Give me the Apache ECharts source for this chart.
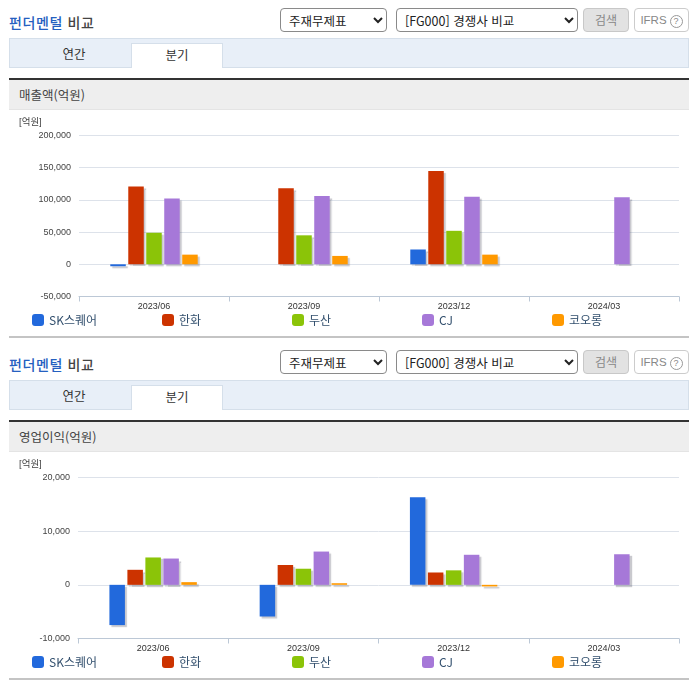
<!DOCTYPE html>
<html lang="ko">
<head>
<meta charset="utf-8">
<script src="https://cdn.jsdelivr.net/npm/echarts@6/dist/echarts.min.js"></script>
<style>
  html, body { margin: 0; background: #fff; }
  body { width: 696px; height: 684px; overflow: hidden; position: relative; font-family: "Noto Sans CJK KR", sans-serif; color: #333; }
  .panel { position: absolute; left: 0; width: 696px; height: 342px; }
  .panel > * { position: absolute; box-sizing: border-box; }
  .title { left: 9px; top: 12px; font-size: 14px; line-height: 20px; font-weight: 500; color: #444; letter-spacing: 0.6px; }
  .title span { color: #2560c0; }
  select { top: 8px; height: 24px; font-size: 12.5px; font-family: inherit; color: #222; background: #fff; border: 1px solid #8a8a8a; border-radius: 4px; padding: 0 4px; }
  .sel1 { left: 280px; width: 107px; }
  .sel2 { left: 396px; width: 182px; }
  .btn { top: 8px; height: 24px; border-radius: 4px; font-size: 12px; line-height: 22px; text-align: center; color: #888; }
  .search { left: 583px; width: 46px; background: #e2e2e2; border: 1px solid #c8c8c8; }
  .ifrs { left: 634px; width: 55px; background: #fff; border: 1px solid #ccc; font-family: "Liberation Sans", sans-serif; font-size: 11.5px; }
  .ifrs i { display: inline-block; width: 13px; height: 13px; margin-left: 3px; border: 1px solid #999; border-radius: 50%; box-sizing: border-box; font-style: normal; font-size: 9px; line-height: 11px; vertical-align: 0; }
  .tabs { left: 9px; top: 38px; width: 680px; height: 30px; background: #e8eff8; border: 1px solid #d5dfea; }
  .tab { top: 43px; height: 25px; font-size: 12.5px; line-height: 22px; text-align: center; color: #333; }
  .tab1 { left: 9px; width: 130px; }
  .tab2 { left: 131px; width: 92px; background: #fff; border: 1px solid #d5dfea; border-bottom: 0; }
  .head { left: 9px; top: 78px; width: 680px; height: 32px; background: #eee; border-top: 2px solid #333; border-bottom: 1px solid #e4e4e4; padding-left: 10px; font-size: 12.5px; line-height: 29px; color: #444; }
  .chart { left: 0; top: 110px; width: 696px; height: 226px; }
  .foot { left: 9px; top: 336px; width: 680px; height: 2px; background: #c4c4c4; }
</style>
</head>
<body>
<script>
const CATEGORIES = ["2023/06", "2023/09", "2023/12", "2024/03"];
const SERIES_NAMES = ["SK스퀘어", "한화", "두산", "CJ", "코오롱"];
const SERIES_COLORS = ["#2269dc", "#cc3300", "#8bc408", "#a678d8", "#ff9900"];

// 매출액(억원)
const SALES_SK = [-3000, null, 23000, null];
const SALES_HANWHA = [121000, 118000, 145000, null];
const SALES_DOOSAN = [49000, 45000, 52000, null];
const SALES_CJ = [102000, 106000, 105000, 104000];
const SALES_KOLON = [15000, 13000, 15000, null];
const SALES_TICKS = { min: -50000, max: 200000, interval: 50000 };

// 영업이익(억원)
const PROFIT_SK = [-7500, -5900, 16300, null];
const PROFIT_HANWHA = [2800, 3700, 2300, null];
const PROFIT_DOOSAN = [5100, 3000, 2700, null];
const PROFIT_CJ = [4900, 6200, 5600, 5700];
const PROFIT_KOLON = [500, 300, -300, null];
const PROFIT_TICKS = { min: -10000, max: 20000, interval: 10000 };

const LEGEND_LEFT = [32, 162, 292, 422, 552];
const LABEL_FONT = '"Liberation Sans", "Noto Sans CJK KR", sans-serif';

function addPanel(top, heading) {
  const panel = document.createElement("div");
  panel.className = "panel";
  panel.style.top = top + "px";
  panel.innerHTML = `
    <div class="title"><span>펀더멘털</span> 비교</div>
    <select class="sel1"><option>주재무제표</option></select>
    <select class="sel2"><option>[FG000] 경쟁사 비교</option></select>
    <div class="btn search">검색</div>
    <div class="btn ifrs">IFRS<i>?</i></div>
    <div class="tabs"></div>
    <div class="tab tab1">연간</div>
    <div class="tab tab2">분기</div>
    <div class="head">${heading}</div>
    <div class="chart"></div>
    <div class="foot"></div>`;
  document.body.appendChild(panel);
  return panel.querySelector(".chart");
}

function drawChart(dom, seriesValues, ticks, gridLeft) {
  const chart = echarts.init(dom);
  chart.setOption({
    animation: false,
    textStyle: { fontFamily: LABEL_FONT },
    title: {
      text: "[억원]",
      left: 19,
      top: 8,
      padding: 0,
      textStyle: { color: "#444", fontSize: 9.5, fontWeight: "normal", fontFamily: LABEL_FONT },
    },
    legend: SERIES_NAMES.map((name, i) => ({
      data: [name],
      left: LEGEND_LEFT[i],
      top: 204,
      padding: 0,
      itemWidth: 12,
      itemHeight: 12,
      itemGap: 5,
      icon: "roundRect",
      textStyle: { color: "#33506e", fontSize: 12, fontFamily: '"Noto Sans CJK KR", sans-serif' },
    })),
    grid: { left: gridLeft, right: 17, top: 25.5, height: 161 },
    xAxis: {
      type: "category",
      data: CATEGORIES,
      axisLine: { onZero: false, lineStyle: { color: "#bcc8d6" } },
      axisTick: { show: true, length: 5, alignWithLabel: false, lineStyle: { color: "#bcc8d6" } },
      axisLabel: { color: "#333", fontSize: 9, margin: 6 },
    },
    yAxis: {
      type: "value",
      min: ticks.min,
      max: ticks.max,
      interval: ticks.interval,
      axisLine: { show: false },
      axisTick: { show: false },
      splitLine: { lineStyle: { color: "#dde2ea" } },
      axisLabel: {
        color: "#444",
        fontSize: 9,
        margin: 8,
        formatter: (v) => v.toLocaleString("en-US"),
      },
    },
    series: SERIES_NAMES.map((name, i) => ({
      name,
      type: "bar",
      data: seriesValues[i],
      barWidth: 15.5,
      barGap: "16%",
      itemStyle: {
        color: SERIES_COLORS[i],
        shadowColor: "rgba(60,60,80,0.28)",
        shadowBlur: 1,
        shadowOffsetX: 2,
        shadowOffsetY: 2,
      },
    })),
  });
  return chart;
}

drawChart(addPanel(0, "매출액(억원)"),
  [SALES_SK, SALES_HANWHA, SALES_DOOSAN, SALES_CJ, SALES_KOLON], SALES_TICKS, 79);
drawChart(addPanel(342, "영업이익(억원)"),
  [PROFIT_SK, PROFIT_HANWHA, PROFIT_DOOSAN, PROFIT_CJ, PROFIT_KOLON], PROFIT_TICKS, 78);
</script>
</body>
</html>
